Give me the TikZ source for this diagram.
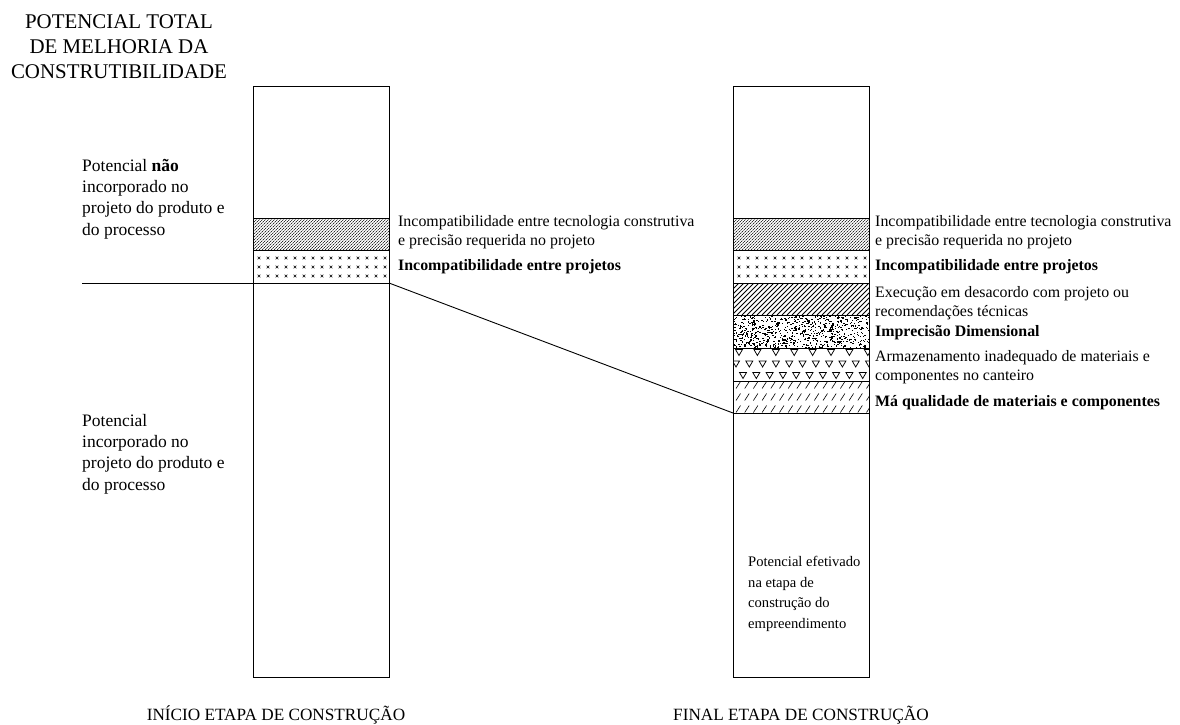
\documentclass[tikz,border=0pt]{standalone}
\usepackage{fontspec}
\setmainfont{Liberation Serif}
\newcommand\bandDense[1]{%
  \begin{scope}
    \clip (#1,218) rectangle ++(136,32);
    \foreach \k in {-36,-33,...,140} {\draw[line width=0.45pt, dash pattern=on 1.6pt off 0.7pt] (#1+\k,250) -- ++(32,-32);}
  \end{scope}}
\newcommand\bandCross[1]{%
  \foreach \r in {258,267,276} {\foreach \i in {0,...,14} {%
    \draw[line width=0.6pt] (#1+6+9*\i-1.3,\r-1.3) -- ++(2.6,2.6) (#1+6+9*\i-1.3,\r+1.3) -- ++(2.6,-2.6);}}}
\newcommand\bandDiag[1]{%
  \begin{scope}
    \clip (#1,283) rectangle ++(136,32);
    \foreach \k in {-36,-31,...,140} {\draw[line width=0.85pt] (#1+\k,315) -- ++(32,-32);}
  \end{scope}}
\newcommand\bandNoise[1]{%
  \begin{scope}
    \clip (#1,315) rectangle ++(136,33);
    \pgfmathsetseed{7}
    \foreach \i in {1,...,750} {%
      \pgfmathsetmacro\rx{#1+136*rnd}%
      \pgfmathsetmacro\ry{315+33*rnd}%
      \pgfmathsetmacro\rw{0.6+1.4*rnd}%
      \fill (\rx,\ry) rectangle ++(\rw,1.1);
    }
  \end{scope}}
\newcommand\tri[2]{\draw[line width=0.75pt] (#1-3.5,#2) -- (#1+3.5,#2) -- (#1,#2+6) -- cycle;}
\newcommand\bandTri[1]{%
  \begin{scope}
    \clip (#1,348) rectangle ++(136,33);
    \foreach \i in {0,...,7} {\tri{#1+6+18.4*\i}{349.5}}
    \foreach \i in {0,...,10} {\tri{#1+3+13.3*\i}{361}}
    \foreach \i in {0,...,9} {\tri{#1+10+13.3*\i}{372.5}}
  \end{scope}}
\newcommand\bandDash[1]{%
  \begin{scope}
    \clip (#1,381) rectangle ++(136,32);
    \foreach \r in {385,397,409} {\foreach \i in {0,...,15} {%
      \draw[line width=0.6pt] (#1+3+8.7*\i,\r+3.5) -- ++(4.5,-7);}}
  \end{scope}}
\begin{document}
\begin{tikzpicture}[x=1pt,y=-1pt,
  barbox/.style={draw=black, line width=0.9pt, inner sep=0pt, outer sep=0pt, minimum width=136pt, minimum height=591pt, anchor=north west},
  sep/.style={line width=0.9pt},
  conn/.style={line width=0.9pt},
  lbl/.style={anchor=west, inner sep=0pt, align=left, font=\fontsize{15.9}{19}\selectfont},
  side/.style={anchor=west, inner sep=0pt, align=left, font=\fontsize{17.5}{21.3}\selectfont},
  head/.style={inner sep=0pt, align=center, font=\fontsize{17.2}{21}\selectfont}]
\useasboundingbox (0,0) rectangle (1180,724);

% patterns
\bandDense{253}
\bandCross{253}
\bandDense{733}
\bandCross{733}
\bandDiag{733}
\bandNoise{733}
\bandTri{733}
\bandDash{733}

% bars
\node[barbox] (barL) at (253,86) {};
\node[barbox] (barR) at (733,86) {};

% band separators
\foreach \y in {218,250,283} {\draw[sep] (253,\y) -- (389,\y);}
\foreach \y in {218,250,283,315,348,381,413} {\draw[sep] (733,\y) -- (869,\y);}

% connectors
\coordinate (lstart) at (82,283);
\coordinate (lcut) at (389,283);
\coordinate (rcut) at (733,413);
\draw[conn] (lstart) -- (lcut);
\draw[conn] (lcut) -- (rcut);

% title
\node[inner sep=0pt, align=center, font=\fontsize{20.9}{25}\selectfont] (title) at (119,47)
  {POTENCIAL TOTAL\\DE MELHORIA DA\\CONSTRUTIBILIDADE};

% left side labels
\node[side] (nao) at (82,199) {Potencial \textbf{não}\\incorporado no\\projeto do produto e\\do processo};
\node[side] (inc) at (82,454) {Potencial\\incorporado no\\projeto do produto e\\do processo};

% left band labels
\node[lbl] (l1) at (398,232) {Incompatibilidade entre tecnologia construtiva\\e precisão requerida no projeto};
\node[lbl] (l2) at (398,267) {\textbf{Incompatibilidade entre projetos}};

% right band labels
\node[lbl] (r1) at (875,232) {Incompatibilidade entre tecnologia construtiva\\e precisão requerida no projeto};
\node[lbl] (r2) at (875,267) {\textbf{Incompatibilidade entre projetos}};
\node[lbl] (r3) at (875,303) {Execução em desacordo com projeto ou\\recomendações técnicas};
\node[lbl] (r4) at (875,333) {\textbf{Imprecisão Dimensional}};
\node[lbl] (r5) at (875,367) {Armazenamento inadequado de materiais e\\componentes no canteiro};
\node[lbl] (r6) at (875,403) {\textbf{Má qualidade de materiais e componentes}};

% bottom right label
\node[anchor=west, inner sep=0pt, align=left, font=\fontsize{14.6}{20.5}\selectfont] (efet) at (748,594)
  {Potencial efetivado\\na etapa de\\construção do\\empreendimento};

% headings
\node[head] (hL) at (276,715) {INÍCIO ETAPA DE CONSTRUÇÃO};
\node[head] (hR) at (801,715) {FINAL ETAPA DE CONSTRUÇÃO};
\end{tikzpicture}
\end{document}
